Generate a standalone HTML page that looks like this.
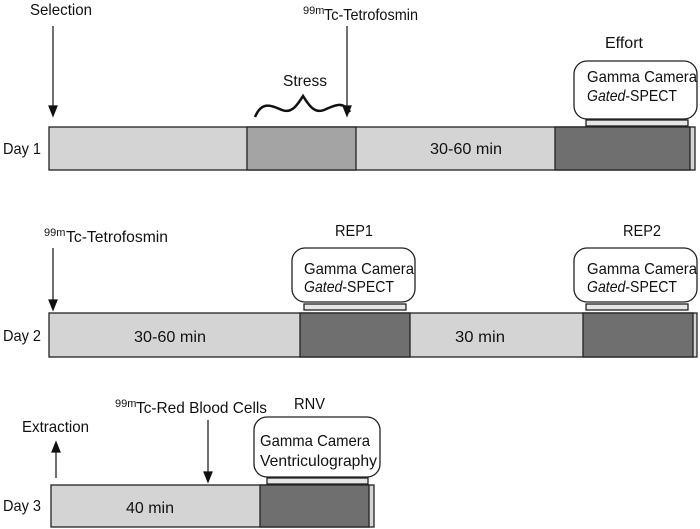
<!DOCTYPE html>
<html><head><style>
html,body{margin:0;padding:0;background:#fff;width:700px;height:529px;overflow:hidden}
svg text{font-family:"Liberation Sans",sans-serif;font-size:16px;fill:#111}
</style></head><body>
<svg width="700" height="529" viewBox="0 0 700 529" xmlns="http://www.w3.org/2000/svg">
<g stroke="#222" stroke-width="1.3">
<rect x="49" y="127" width="646" height="43" fill="#d4d4d4"/>
<rect x="247" y="127" width="109" height="43" fill="#a4a4a4"/>
<rect x="555" y="127" width="135" height="43" fill="#6f6f6f"/>
<rect x="574" y="61" width="123" height="58" rx="13" fill="#fff"/>
<rect x="586" y="120" width="102" height="6" fill="#e6e6e6"/>
<rect x="49" y="313" width="648" height="44" fill="#d4d4d4"/>
<rect x="300" y="313" width="110" height="44" fill="#6f6f6f"/>
<rect x="583" y="313" width="110" height="44" fill="#6f6f6f"/>
<rect x="292" y="248" width="123" height="54" rx="13" fill="#fff"/>
<rect x="304" y="304" width="102" height="6" fill="#e6e6e6"/>
<rect x="574" y="248" width="123" height="54" rx="13" fill="#fff"/>
<rect x="586" y="304" width="102" height="6" fill="#e6e6e6"/>
<rect x="51" y="485" width="323" height="42" fill="#d4d4d4"/>
<rect x="260" y="485" width="109" height="42" fill="#6f6f6f"/>
<rect x="254" y="417" width="126" height="60" rx="13" fill="#fff"/>
<rect x="267" y="478" width="101" height="6" fill="#e6e6e6"/>
</g>
<g stroke="#111" stroke-width="1.2" fill="none">
<line x1="53" y1="26" x2="53" y2="108"/><path d="M49,106 L57,106 L53,116 Z" fill="#111"/>
<line x1="347" y1="26" x2="347" y2="108"/><path d="M343,106 L351,106 L347,116 Z" fill="#111"/>
<line x1="53" y1="248" x2="53" y2="302"/><path d="M49,300 L57,300 L53,310 Z" fill="#111"/>
<line x1="208" y1="420" x2="208" y2="474"/><path d="M204,472 L212,472 L208,482 Z" fill="#111"/>
<line x1="56" y1="478" x2="56" y2="450"/><path d="M52,452 L60,452 L56,442 Z" fill="#111"/>
<path d="M255,117 C262,100 272,106 282,110 C292,114 298,104 303,96 C308,104 314,114 324,110 C334,106 342,100 350,112" stroke-width="2.5"/>
</g>
<text x="30" y="15" textLength="62" lengthAdjust="spacingAndGlyphs">Selection</text>
<text x="303" y="14" style="font-size:11px">99m</text>
<text x="324" y="20" textLength="94" lengthAdjust="spacingAndGlyphs">Tc-Tetrofosmin</text>
<text x="283" y="86" textLength="44" lengthAdjust="spacingAndGlyphs">Stress</text>
<text x="605" y="48" textLength="38" lengthAdjust="spacingAndGlyphs">Effort</text>
<text x="587" y="82" textLength="110" lengthAdjust="spacingAndGlyphs">Gamma Camera</text>
<text x="587" y="101" textLength="90" lengthAdjust="spacingAndGlyphs"><tspan font-style="italic">Gated</tspan>-SPECT</text>
<text x="3" y="154" textLength="38" lengthAdjust="spacingAndGlyphs">Day 1</text>
<text x="430" y="154" textLength="72" lengthAdjust="spacingAndGlyphs">30-60 min</text>

<text x="44" y="236" style="font-size:11px">99m</text>
<text x="66" y="242" textLength="102" lengthAdjust="spacingAndGlyphs">Tc-Tetrofosmin</text>
<text x="335" y="236" textLength="38" lengthAdjust="spacingAndGlyphs">REP1</text>
<text x="623" y="236" textLength="38" lengthAdjust="spacingAndGlyphs">REP2</text>
<text x="304" y="274" textLength="110" lengthAdjust="spacingAndGlyphs">Gamma Camera</text>
<text x="304" y="292" textLength="90" lengthAdjust="spacingAndGlyphs"><tspan font-style="italic">Gated</tspan>-SPECT</text>
<text x="587" y="274" textLength="110" lengthAdjust="spacingAndGlyphs">Gamma Camera</text>
<text x="587" y="292" textLength="90" lengthAdjust="spacingAndGlyphs"><tspan font-style="italic">Gated</tspan>-SPECT</text>
<text x="3" y="341" textLength="38" lengthAdjust="spacingAndGlyphs">Day 2</text>
<text x="134" y="342" textLength="72" lengthAdjust="spacingAndGlyphs">30-60 min</text>
<text x="455" y="342" textLength="50" lengthAdjust="spacingAndGlyphs">30 min</text>

<text x="22" y="432" textLength="67" lengthAdjust="spacingAndGlyphs">Extraction</text>
<text x="115" y="407" style="font-size:11px">99m</text>
<text x="136" y="413" textLength="131" lengthAdjust="spacingAndGlyphs">Tc-Red Blood Cells</text>
<text x="294" y="409" textLength="31" lengthAdjust="spacingAndGlyphs">RNV</text>
<text x="260" y="446" textLength="110" lengthAdjust="spacingAndGlyphs">Gamma Camera</text>
<text x="260" y="466" textLength="117" lengthAdjust="spacingAndGlyphs">Ventriculography</text>
<text x="3" y="511" textLength="38" lengthAdjust="spacingAndGlyphs">Day 3</text>
<text x="126" y="513" textLength="48" lengthAdjust="spacingAndGlyphs">40 min</text>
</svg>
</body></html>
